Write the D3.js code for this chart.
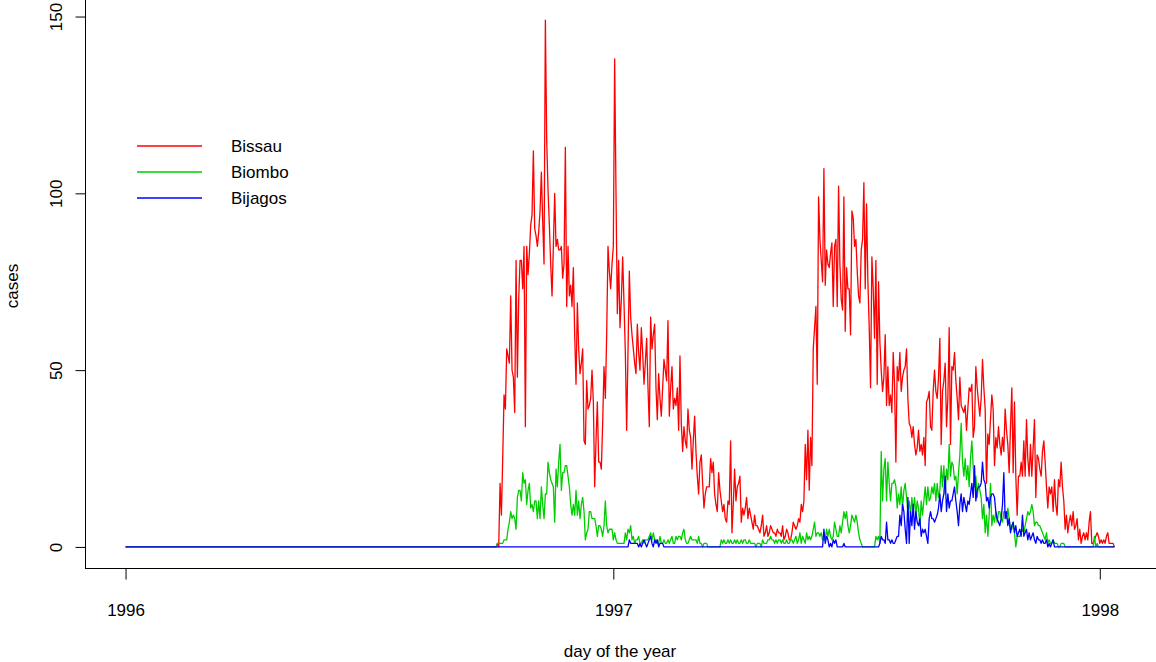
<!DOCTYPE html>
<html>
<head>
<meta charset="utf-8">
<script src="https://cdn.jsdelivr.net/npm/d3@7"></script>
<style>
  body { margin: 0; background: #fff; }
  svg { display: block; }
  text { font-family: "Liberation Sans", Arial, Helvetica, sans-serif; fill: #000; }
</style>
</head>
<body>
<svg id="chart" width="1156" height="662"></svg>
<script>
// Daily cholera case counts by region, Guinea-Bissau.
// Day index counts from 1 January 1996; all regions report zero cases before firstReportDay.
const firstReportDay = 276;
const regions = ["Bissau", "Biombo", "Bijagos"];
const regionColors = ["#ff0000", "#00cd00", "#0000ff"];
const yearLabels = ["1996", "1997", "1998"];
const yearStartDays = [0, 366, 731];
const caseTicks = [0, 50, 100, 150];

// counts from day 276 (rows of ten days)
const bissau = [
  0,0,0,1,0,18,9,25,43,39,
  56,54,52,71,50,48,38,81,48,70,
  81,81,73,85,34,85,77,83,91,94,
  112,90,88,85,89,95,106,92,80,149,
  115,101,91,80,71,85,100,85,87,84,
  84,85,76,80,113,68,85,71,74,68,
  79,60,46,69,56,49,52,56,30,29,
  47,39,40,42,50,41,17,30,41,24,
  24,22,35,51,42,60,85,78,73,80,
  85,138,100,66,81,62,70,82,69,55,
  33,55,78,65,60,56,52,49,63,55,
  50,62,55,46,52,59,45,34,65,56,
  60,63,45,36,49,42,37,45,53,50,
  47,64,37,45,51,39,42,40,45,33,
  54,35,27,34,30,28,39,33,31,22,
  30,37,27,20,15,24,26,18,11,15,
  17,17,17,25,21,24,15,12,10,21,
  16,13,10,12,8,7,13,12,30,4,
  12,22,13,17,18,20,7,11,9,11,
  14,8,11,9,7,5,9,6,6,5,
  4,6,9,3,4,6,3,4,6,5,
  4,4,3,5,4,4,3,6,2,3,
  5,4,2,2,4,7,6,5,6,8,
  7,12,10,13,29,19,33,16,31,23,
  56,62,68,46,99,87,81,75,107,74,
  84,80,79,83,86,68,85,87,68,102,
  80,70,67,99,61,79,73,73,60,95,
  93,85,87,78,71,69,84,87,103,73,
  97,75,62,45,82,73,59,81,46,75,
  58,50,44,48,60,40,51,40,43,38,
  55,46,24,51,47,55,44,48,50,51,
  56,42,35,34,31,34,29,26,28,33,
  27,29,26,31,23,41,42,44,34,33,
  44,50,44,42,48,59,29,44,47,52,
  34,42,62,29,51,50,55,47,42,36,
  48,40,39,38,40,33,39,45,44,46,
  31,34,51,45,41,37,42,53,45,39,
  18,32,29,36,43,39,23,31,28,34,
  29,26,31,27,39,33,29,21,34,45,
  21,41,20,9,20,20,24,20,30,20,
  36,25,20,29,20,28,36,14,26,25,
  22,20,27,30,24,17,11,17,15,17,
  10,19,12,9,19,17,24,17,13,5,
  9,4,7,9,6,10,5,6,8,2,
  5,1,3,4,2,4,2,7,10,1,
  1,2,3,4,3,1,2,1,2,1,
  3,4,1,1,1,1,0
];

const biombo = [
  0,0,0,1,1,1,1,1,2,2,
  2,5,7,10,8,9,8,5,14,16,
  16,13,21,18,19,12,16,18,11,12,
  10,13,13,8,13,8,17,12,8,15,
  15,24,21,19,18,17,7,22,17,24,
  29,16,21,21,23,23,20,17,12,9,
  12,9,16,9,13,8,12,14,10,2,
  4,5,10,10,8,8,8,6,3,6,
  6,5,3,6,13,6,4,5,5,5,
  2,4,2,1,1,1,1,1,1,4,
  2,5,4,6,2,3,1,2,2,3,
  1,1,2,1,2,2,2,3,4,2,
  4,2,2,1,1,3,1,1,2,1,
  1,2,1,2,3,1,1,3,2,3,
  3,2,4,5,2,1,1,2,3,2,
  2,2,2,1,3,1,1,0,1,1,
  1,0,0,0,0,0,0,0,0,0,
  0,2,1,2,1,1,2,1,2,1,
  1,2,1,2,1,1,2,1,2,2,
  1,1,2,1,1,1,1,0,1,1,
  1,0,2,1,1,1,2,2,3,2,
  2,1,2,1,2,2,1,2,1,1,
  2,1,1,2,2,1,2,3,1,2,
  4,1,3,2,1,4,2,3,2,3,
  5,7,3,4,4,3,4,2,2,2,
  5,3,5,3,2,3,7,5,3,3,
  6,4,7,10,8,10,6,4,6,9,
  8,7,9,7,4,2,1,0,0,0,
  0,0,0,0,0,0,0,3,2,3,
  1,27,13,22,25,13,24,18,13,18,
  18,19,17,11,15,12,17,11,16,18,
  14,10,13,9,14,10,14,9,13,11,
  6,13,9,13,17,12,17,13,14,17,
  15,18,13,18,14,16,23,17,23,15,
  22,19,29,20,24,23,19,20,15,21,
  26,35,24,20,25,19,23,17,25,30,
  23,17,20,14,18,16,14,8,12,4,
  9,3,9,18,6,9,7,10,7,10,
  10,8,7,10,10,8,11,8,5,5,
  7,4,0,3,3,3,4,5,4,6,
  8,10,9,10,12,10,6,7,7,6,
  6,5,4,3,2,4,1,2,1,1,
  2,1,1,1,0,0,1,1,1,0,
  0,0,0,0,0,0,0,0,0,0,
  0,0,0,0,0,0,0,0,0,0,
  0,3,0,1,0,0,0,0,0,0,
  0,0,0,0,0,0,0
];

const bijagos = [
  0,0,0,0,0,0,0,0,0,0,
  0,0,0,0,0,0,0,0,0,0,
  0,0,0,0,0,0,0,0,0,0,
  0,0,0,0,0,0,0,0,0,0,
  0,0,0,0,0,0,0,0,0,0,
  0,0,0,0,0,0,0,0,0,0,
  0,0,0,0,0,0,0,0,0,0,
  0,0,0,0,0,0,0,0,0,0,
  0,0,0,0,0,0,0,0,0,0,
  0,0,0,0,0,0,0,0,0,0,
  0,0,2,1,1,1,1,1,1,0,
  1,0,1,2,1,0,1,2,3,1,
  0,2,1,2,0,1,1,1,0,0,
  0,0,0,0,0,0,0,0,0,0,
  0,0,0,0,0,0,0,0,0,0,
  0,0,0,0,0,0,0,0,0,0,
  0,0,0,0,0,0,0,0,0,0,
  0,0,0,0,0,0,0,0,0,0,
  0,0,0,0,0,0,0,0,0,0,
  0,0,0,0,0,0,0,0,0,0,
  0,0,0,0,0,0,0,0,0,0,
  0,0,0,0,0,0,0,0,0,0,
  0,0,0,0,0,0,0,0,0,0,
  0,0,0,0,0,0,0,0,0,0,
  0,0,0,0,0,0,0,0,5,1,
  3,2,0,1,0,2,1,2,0,0,
  0,0,0,1,0,0,0,0,0,0,
  0,0,0,0,0,0,0,0,0,0,
  0,0,0,0,0,0,0,0,0,0,
  1,3,2,2,1,7,2,2,1,2,
  1,1,2,3,3,9,6,12,10,5,
  1,14,1,10,6,12,5,10,7,6,
  8,3,5,4,5,3,1,8,10,8,
  8,7,8,9,11,15,10,13,15,20,
  10,15,11,13,13,15,17,13,10,6,
  12,15,10,14,12,10,13,12,15,18,
  14,23,13,16,17,17,18,24,19,18,
  13,14,11,14,15,15,14,10,8,7,
  6,8,12,21,8,10,6,8,4,6,
  7,4,6,3,4,5,3,9,3,4,
  5,2,4,2,3,4,2,1,3,2,
  2,1,2,1,1,2,0,1,0,1,
  2,0,0,0,0,0,0,0,0,0,
  0,0,0,0,0,0,0,0,0,0,
  0,0,0,0,0,0,0,0,0,0,
  0,0,0,0,0,0,0,0,0,0,
  0,0,0,0,0,0,0
];

const seriesCounts = [bissau, biombo, bijagos];

const svg = d3.select("#chart");
const lastDay = firstReportDay + bissau.length - 1;
const padX = lastDay * 0.04;
const maxCases = d3.max(seriesCounts, s => d3.max(s));
const padY = maxCases * 0.04;

const x = d3.scaleLinear().domain([-padX, lastDay + padX]).range([86, 1154]);
const y = d3.scaleLinear().domain([-padY, maxCases + padY]).range([568, -1]);

// plot frame: left and bottom sides
svg.append("line").attr("x1", 85.5).attr("x2", 85.5).attr("y1", -2).attr("y2", 568.5)
  .attr("stroke", "#000").attr("stroke-width", 1);
svg.append("line").attr("x1", 85).attr("x2", 1156).attr("y1", 568.5).attr("y2", 568.5)
  .attr("stroke", "#000").attr("stroke-width", 1);

// series lines, drawn Bissau first so the smaller regions sit on top
const line = d3.line().x(d => x(d.day)).y(d => y(d.value));
seriesCounts.forEach((counts, k) => {
  const quiet = d3.range(firstReportDay).map(day => ({ day, value: 0 }));
  const reported = counts.map((value, i) => ({ day: firstReportDay + i, value }));
  svg.append("path")
    .datum(quiet.concat(reported))
    .attr("fill", "none")
    .attr("stroke", regionColors[k])
    .attr("stroke-width", 1.3)
    .attr("stroke-linejoin", "round")
    .attr("d", line);
});

// x axis
const gx = svg.append("g").attr("transform", "translate(0,568.5)")
  .call(d3.axisBottom(x).tickValues(yearStartDays)
    .tickFormat((d, i) => yearLabels[i]).tickSize(11).tickPadding(24));
gx.select(".domain").remove();
gx.selectAll(".tick line").attr("stroke", "#000");
gx.selectAll(".tick text").attr("font-size", 17).attr("font-family", null);

// y axis with labels turned parallel to the axis
const gy = svg.append("g").attr("transform", "translate(85.5,0)")
  .call(d3.axisLeft(y).tickValues(caseTicks).tickSize(10));
gy.select(".domain").remove();
gy.selectAll(".tick line").attr("stroke", "#000");
gy.selectAll(".tick text")
  .attr("x", null).attr("dy", null)
  .attr("font-size", 17).attr("font-family", null)
  .attr("text-anchor", "middle")
  .attr("transform", "translate(-24,0) rotate(-90)");

// axis titles
svg.append("text").attr("x", 620).attr("y", 657).attr("text-anchor", "middle")
  .attr("font-size", 17).text("day of the year");
svg.append("text").attr("transform", "translate(18,286) rotate(-90)")
  .attr("text-anchor", "middle").attr("font-size", 17).text("cases");

// legend
const legend = svg.append("g");
regions.forEach((name, k) => {
  const ly = 146 + k * 26;
  legend.append("line").attr("x1", 137).attr("x2", 202).attr("y1", ly).attr("y2", ly)
    .attr("stroke", regionColors[k]).attr("stroke-width", 1.6);
  legend.append("text").attr("x", 231).attr("y", ly + 6).attr("font-size", 17).text(name);
});
</script>
</body>
</html>
